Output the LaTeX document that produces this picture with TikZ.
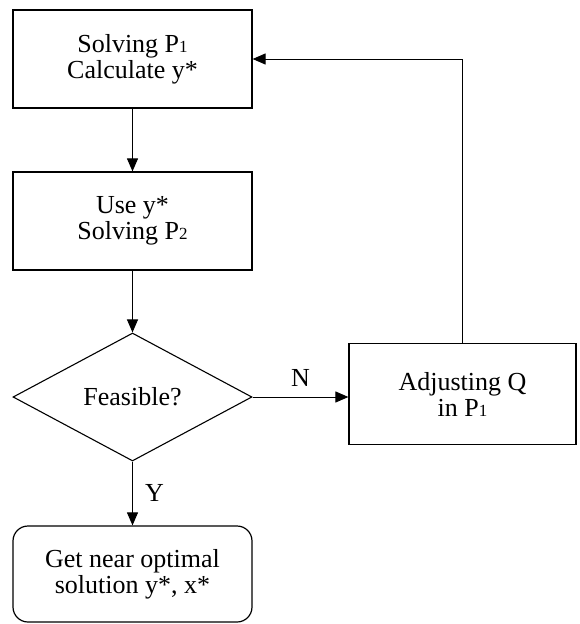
\documentclass[tikz,border=0pt]{standalone}
\usepackage{fontspec}
\setmainfont{Liberation Serif}
\usetikzlibrary{shapes.geometric,arrows.meta}
\newcommand{\sbs}[1]{{\fontsize{17}{17}\selectfont #1}}
\begin{document}
\begin{tikzpicture}[x=1pt,y=-1pt,
  every node/.style={font=\fontsize{26}{26}\selectfont},
  procbox/.style={draw,line width=1.2pt,rectangle,align=center,inner sep=0pt},
  decbox/.style={draw,line width=1.1pt,diamond,aspect=1.84,minimum width=239pt,minimum height=128pt,inner sep=0pt},
  endbox/.style={draw,line width=1.2pt,rectangle,rounded corners=15pt,align=center,inner sep=0pt},
  conn/.style={line width=1pt,-{Triangle[length=13pt,width=11pt]}},
  lbl/.style={inner sep=0pt}]
\useasboundingbox (0,0) rectangle (579,624);
\node[procbox,minimum width=239pt,minimum height=98pt] (b1) at (132.5,59) {Solving P\sbs{1}\\Calculate y*};
\node[procbox,minimum width=239pt,minimum height=98pt] (b2) at (132.5,221) {Use y*\\Solving P\sbs{2}};
\node[decbox] (dia) at (132.5,397) {Feasible?};
\node[procbox,minimum width=227pt,minimum height=101pt] (b3) at (462.5,394) {Adjusting Q\\in P\sbs{1}};
\node[endbox,minimum width=239pt,minimum height=96pt] (b4) at (132.5,574) {Get near optimal\\solution y*, x*};
\draw[conn] (b1) -- (b2);
\draw[conn] (b2) -- (dia);
\draw[conn] (dia.east) -- (dia.east -| b3.west) node[lbl,midway,above=10pt] (n) {N};
\draw[conn] (dia) -- (b4) node[lbl,midway,right=12pt] (y) {Y};
\draw[conn] (b3.north) |- (b1.east);
\end{tikzpicture}
\end{document}
